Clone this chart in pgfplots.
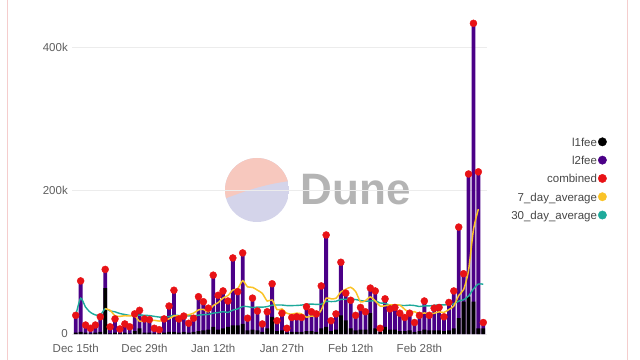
\documentclass[border=0pt]{standalone}
\usepackage{pgfplots}
\pgfplotsset{compat=1.18}
\usepackage{pgfplotstable}
\usepackage{fontspec}
\setmainfont{Liberation Sans}
\definecolor{l2col}{RGB}{75,0,135}
\definecolor{redcol}{RGB}{232,18,22}
\definecolor{yelcol}{RGB}{250,195,40}
\definecolor{tealcol}{RGB}{30,170,155}
\definecolor{txtcol}{RGB}{95,95,95}
\definecolor{legcol}{RGB}{70,70,70}
\definecolor{framecol}{RGB}{245,205,205}
\definecolor{wmpink}{RGB}{247,200,190}
\definecolor{wmlav}{RGB}{212,212,234}
\definecolor{wmtext}{RGB}{180,180,180}
\definecolor{gridcol}{RGB}{236,236,236}

\pgfplotstableread{
x l1 c y7 y30
0 2 26 nan 26
1 3 74 nan 50
2 2 12.5 nan 37.5
3 1 8 nan 30.1
4 2 12.5 nan 26.6
5 3 24 nan 26.2
6 64 90 35.3 35.3
7 1 10 33 32.1
8 2 21 25.4 30.9
9 1 7 24.6 28.5
10 2 14 25.5 27.2
11 1 10 25.1 25.8
12 4 28 25.7 25.9
13 8 33 17.6 26.4
14 2 21 19.1 26.1
15 2 20 19 25.7
16 1 8 19.1 24.6
17 1 6 18 23.6
18 2 21 19.6 23.5
19 3 39 21.1 24.3
20 3 61 25.1 26
21 2 21 25.1 25.8
22 3 25 25.9 25.7
23 2 15 26.9 25.3
24 3 22 29.1 25.2
25 4 52 33.6 26.2
26 5 45 34.4 26.9
27 6 36 30.9 27.2
28 10 82 39.6 29.1
29 6 54 43.7 29.9
30 8 60 50.1 31.1
31 10 46 53.6 30.1
32 12 106 61.3 33.3
33 12 59 63.3 35
34 14 113 74.3 38.3
35 5 22 65.7 38.2
36 6 50 65.1 36.9
37 5 32 61.1 37.6
38 3 14 56.6 37.4
39 8 31 45.9 38.2
40 24 70 47.4 40.1
41 4 18.5 33.9 40.4
42 5 29 34.9 40.4
43 2 8 28.9 39.6
44 3 23 27.6 39.6
45 3 24 29.1 39.8
46 3 23 27.9 40.3
47 4 38 23.4 41.3
48 4 31 25.1 41.7
49 3 28 25 41.3
50 8 67 33.4 41.5
51 10 138 49.9 45.4
52 4 18.5 49.1 45.2
53 6 28 49.8 45.6
54 26 100 58.6 48.2
55 19 57 62.4 48.4
56 8 47 65.1 48.4
57 5 26 59.2 48.1
58 6 37 44.8 46.6
59 6 31 46.6 45.8
60 29 64 51.7 46
61 8 60 46 46.4
62 3 8 39 43.2
63 10 49 39.3 42.8
64 6 35 40.6 40.2
65 6 37 40.6 40.7
66 4 29 40.3 40
67 4 23 34.4 39.7
68 5 29 30 40.2
69 3 16 31.1 39.7
70 4 26 27.9 38.3
71 6 46 29.4 39.2
72 5 26 27.9 39.1
73 5 36 28.9 40
74 5 37 30.9 40.5
75 4 24 30.1 40.5
76 5 44 34.1 41.2
77 8 60 39 41.9
78 22 149 53.7 45.9
79 45 84 62 47.7
80 52 223 88.7 52.9
81 45 433 145.3 62.8
82 8 226 174.1 69.7
83 8 16 nan 69.3
}\datatable

\begin{document}
\begin{tikzpicture}[x=1pt,y=1pt]
% watermark
\begin{scope}
\clip (257,169) circle (32);
\fill[wmlav] (225,137) rectangle (289,201);
\fill[wmpink] (224,160) .. controls (245,168) and (265,175) .. (290,178) -- (290,202) -- (224,202) -- cycle;
\end{scope}
\node[wmtext, anchor=west] at (297,169) {\fontsize{44}{44}\selectfont\bfseries Dune};

\begin{axis}[
  at={(72.3pt,25pt)}, anchor=south west,
  scale only axis, width=414.4pt, height=315.7pt,
  xmin=-0.7, xmax=83.7, ymin=0, ymax=440,
  axis line style={draw=none},
  major tick length=0pt,
  ymajorgrids, grid style={gridcol, line width=0.6pt},
  ytick={0,200,400}, yticklabels={0,200k,400k},
  xtick={0,14,28,42,56,70},
  xticklabels={Dec 15th,Dec 29th,Jan 12th,Jan 27th,Feb 12th,Feb 28th},
  /pgf/number format/assume math mode=true,
  tick label style={font=\fontsize{11.5}{13}\selectfont, text=txtcol},
  yticklabel style={xshift=-1pt},
  xticklabel style={yshift=-7pt},
  unbounded coords=jump,
  legend plot pos=right,
  legend cell align=right,
  legend style={draw=none, fill=none, at={(1.2975,0.488)}, anchor=east,
    font=\fontsize{11.5}{13}\selectfont, text=legcol,
    row sep=5.3pt,
    nodes={text height=8.5pt, text depth=2.5pt, inner sep=1pt}},
]
\addplot[ybar, bar width=3.8pt, bar shift=0pt, fill=l2col, draw=none, forget plot] table[x=x, y=c] {\datatable};
\addplot[ybar, bar width=3.8pt, bar shift=0pt, fill=black, draw=none, forget plot] table[x=x, y=l1] {\datatable};
\addplot[only marks, mark=*, mark size=3.5pt, mark options={fill=redcol, draw=redcol}, forget plot] table[x=x, y=c] {\datatable};
\addplot[tealcol, line width=1.4pt, smooth, tension=0.4, no marks, forget plot] table[x=x, y=y30] {\datatable};
\addplot[yelcol, line width=1.5pt, smooth, tension=0.4, no marks, forget plot] table[x=x, y=y7] {\datatable};

\addlegendimage{legend image code/.code={\fill[black] (4.5pt,1.5pt) circle (4.2pt);}}
\addlegendentry{l1fee}
\addlegendimage{legend image code/.code={\fill[l2col] (4.5pt,1.5pt) circle (4.2pt);}}
\addlegendentry{l2fee}
\addlegendimage{legend image code/.code={\fill[redcol] (4.5pt,1.5pt) circle (4.2pt);}}
\addlegendentry{combined}
\addlegendimage{legend image code/.code={\fill[yelcol] (4.5pt,1.5pt) circle (4.2pt);}}
\addlegendentry{7\_day\_average}
\addlegendimage{legend image code/.code={\fill[tealcol] (4.5pt,1.5pt) circle (4.2pt);}}
\addlegendentry{30\_day\_average}
\end{axis}
\draw[framecol, line width=1pt] (7,-5) -- (7,364);
\draw[framecol, line width=1pt] (627,-5) -- (627,364);
\pgfresetboundingbox
\path[use as bounding box] (0,0) rectangle (640,359);
\end{tikzpicture}
\end{document}
